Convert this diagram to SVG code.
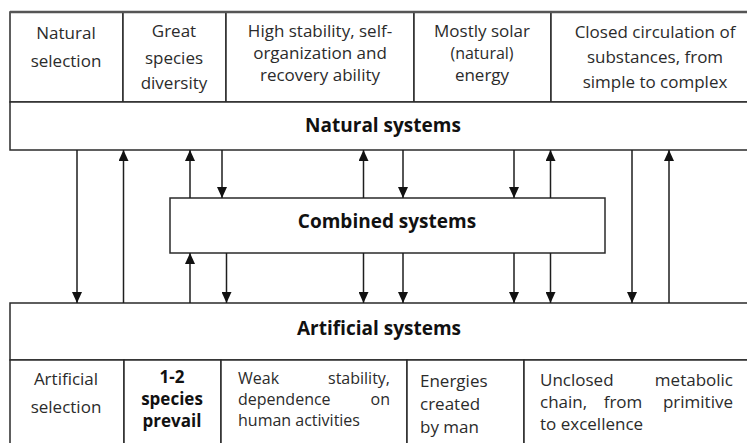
<svg xmlns="http://www.w3.org/2000/svg" width="747" height="443" viewBox="0 0 747 443">
<style>
.box{fill:#fff;stroke:#2a2a2a;stroke-width:1.5}
.t{font-family:"Open Sans","Noto Sans",sans-serif;font-size:17px;fill:#2b2b2b}
.s{font-size:16px}
.c{text-anchor:middle}
.e{text-anchor:end}
.b{font-family:"Open Sans","Noto Sans",sans-serif;font-weight:bold;fill:#111;text-anchor:middle}
.ln{stroke:#1e1e1e;stroke-width:1.5;fill:none}
</style>
<defs>
<marker id="ah" viewBox="0 0 11 10" refX="11" refY="5" markerWidth="11" markerHeight="10" markerUnits="userSpaceOnUse" orient="auto">
<path d="M0,0 L11,5 L0,10 Z" fill="#111"/>
</marker>
</defs>
<rect x="0" y="0" width="747" height="443" fill="#fff"/>

<g id="natural-selection">
<rect class="box" x="10" y="12" width="113" height="90"/>
<text class="t c" x="66" y="39">Natural</text>
<text class="t c" x="66" y="67">selection</text>
</g>
<g id="species-diversity">
<rect class="box" x="123" y="12" width="103" height="90"/>
<text class="t c" x="174" y="37">Great</text>
<text class="t c" x="174" y="64">species</text>
<text class="t c" x="174" y="89">diversity</text>
</g>
<g id="high-stability">
<rect class="box" x="226" y="12" width="188" height="90"/>
<text class="t c" x="320" y="37">High stability, self-</text>
<text class="t c" x="320" y="59">organization and</text>
<text class="t c" x="320" y="81">recovery ability</text>
</g>
<g id="solar-energy">
<rect class="box" x="414" y="12" width="137" height="90"/>
<text class="t c" x="482" y="37">Mostly solar</text>
<text class="t c s" x="482" y="59">(natural)</text>
<text class="t c" x="482" y="81">energy</text>
</g>
<g id="closed-circulation">
<rect class="box" x="551" y="12" width="210" height="90"/>
<text class="t c" x="655" y="38">Closed circulation of</text>
<text class="t c" x="655" y="63">substances, from</text>
<text class="t c" x="655" y="88">simple to complex</text>
</g>
<g id="natural-systems">
<rect class="box" x="10" y="102" width="751" height="48"/>
<text class="b" x="383" y="132" font-size="19">Natural systems</text>
</g>
<g id="combined-systems">
<rect class="box" x="170" y="198" width="435" height="55"/>
<text class="b" x="387" y="228" font-size="19">Combined systems</text>
</g>
<g id="artificial-systems">
<rect class="box" x="10" y="303" width="751" height="57"/>
<text class="b" x="379" y="335" font-size="19">Artificial systems</text>
</g>
<g id="artificial-selection">
<rect class="box" x="10" y="360" width="114" height="95"/>
<text class="t c" x="66" y="385">Artificial</text>
<text class="t c" x="66" y="413">selection</text>
</g>
<g id="species-prevail">
<rect class="box" x="124" y="360" width="97" height="95"/>
<text class="b" x="172" y="383" font-size="17">1-2</text>
<text class="b" x="172" y="405" font-size="17">species</text>
<text class="b" x="172" y="427" font-size="17">prevail</text>
</g>
<g id="weak-stability">
<rect class="box" x="221" y="360" width="186" height="95"/>
<text class="t s" x="238" y="384">Weak</text>
<text class="t s e" x="390" y="384">stability,</text>
<text class="t s" x="238" y="405">dependence</text>
<text class="t s e" x="390" y="405">on</text>
<text class="t s" x="238" y="426">human activities</text>
</g>
<g id="energies-by-man">
<rect class="box" x="407" y="360" width="117" height="95"/>
<text class="t" x="420" y="387">Energies</text>
<text class="t" x="420" y="410">created</text>
<text class="t" x="420" y="433">by man</text>
</g>
<g id="unclosed-chain">
<rect class="box" x="524" y="360" width="237" height="95"/>
<text class="t" x="540" y="386">Unclosed</text>
<text class="t e" x="733" y="386">metabolic</text>
<text class="t" x="540" y="408">chain,</text>
<text class="t c" x="623" y="408">from</text>
<text class="t e" x="733" y="408">primitive</text>
<text class="t" x="540" y="430">to excellence</text>
</g>
<line x1="10" y1="12" x2="747" y2="12" stroke="#555" stroke-width="2.5"/>

<g id="connectors">
<line class="ln" x1="77" y1="150" x2="77" y2="303" marker-end="url(#ah)"/>
<line class="ln" x1="123.5" y1="303" x2="123.5" y2="150" marker-end="url(#ah)"/>
<line class="ln" x1="190" y1="198" x2="190" y2="150" marker-end="url(#ah)"/>
<line class="ln" x1="222" y1="150" x2="222" y2="198" marker-end="url(#ah)"/>
<line class="ln" x1="363.5" y1="198" x2="363.5" y2="150" marker-end="url(#ah)"/>
<line class="ln" x1="403" y1="150" x2="403" y2="198" marker-end="url(#ah)"/>
<line class="ln" x1="514" y1="150" x2="514" y2="198" marker-end="url(#ah)"/>
<line class="ln" x1="550.5" y1="198" x2="550.5" y2="150" marker-end="url(#ah)"/>
<line class="ln" x1="632" y1="150" x2="632" y2="303" marker-end="url(#ah)"/>
<line class="ln" x1="669" y1="303" x2="669" y2="150" marker-end="url(#ah)"/>
<line class="ln" x1="190" y1="303" x2="190" y2="253" marker-end="url(#ah)"/>
<line class="ln" x1="226.5" y1="253" x2="226.5" y2="303" marker-end="url(#ah)"/>
<line class="ln" x1="363.5" y1="253" x2="363.5" y2="303" marker-end="url(#ah)"/>
<line class="ln" x1="403" y1="253" x2="403" y2="303" marker-end="url(#ah)"/>
<line class="ln" x1="514" y1="253" x2="514" y2="303" marker-end="url(#ah)"/>
<line class="ln" x1="550.5" y1="253" x2="550.5" y2="303" marker-end="url(#ah)"/>
</g>
</svg>
